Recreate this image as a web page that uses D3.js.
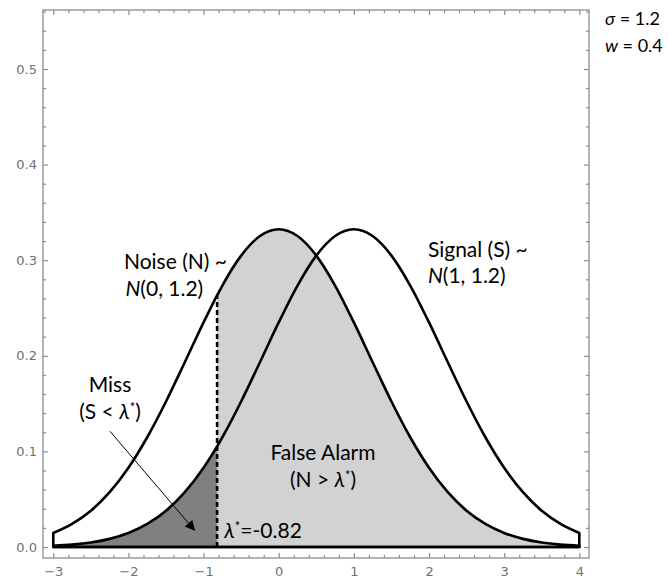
<!DOCTYPE html>
<html>
<head>
<meta charset="utf-8">
<script src="https://cdn.jsdelivr.net/npm/d3@7"></script>
<style>
body { margin: 0; background: #fff; }
</style>
</head>
<body>
<script>
// curve samples
var xs = [-3, -2.75, -2.5, -2.25, -2, -1.75, -1.5, -1.25, -1, -0.82, -0.75, -0.5, -0.25, 0,
          0.25, 0.5, 0.75, 1, 1.25, 1.5, 1.75, 2, 2.25, 2.5, 2.75, 3, 3.25, 3.5, 3.75, 4];
var noise = [0.0146, 0.0241, 0.0379, 0.0573, 0.0829, 0.1148, 0.1522, 0.1933, 0.2349, 0.2632, 0.2735, 0.3048, 0.3253, 0.3324,
             0.3253, 0.3048, 0.2735, 0.2349, 0.1933, 0.1522, 0.1148, 0.0829, 0.0573, 0.0379, 0.0241, 0.0146, 0.0085, 0.0047, 0.0025, 0.0013];
var signal = [0.0013, 0.0025, 0.0047, 0.0085, 0.0146, 0.0241, 0.0379, 0.0573, 0.0829, 0.1053, 0.1148, 0.1522, 0.1933, 0.2349,
              0.2735, 0.3048, 0.3253, 0.3324, 0.3253, 0.3048, 0.2735, 0.2349, 0.1933, 0.1522, 0.1148, 0.0829, 0.0573, 0.0379, 0.0241, 0.0146];
var lambda = -0.82;

var xMajor = [-3, -2, -1, 0, 1, 2, 3, 4];
var xLabels = ["\u22123", "\u22122", "\u22121", "0", "1", "2", "3", "4"];
var yMajor = [0, 0.1, 0.2, 0.3, 0.4, 0.5];
var yLabels = ["0.0", "0.1", "0.2", "0.3", "0.4", "0.5"];

var width = 669, height = 581;
var frame = {left: 43, top: 10, right: 589, bottom: 558};

var xScale = d3.scaleLinear().domain([-3.137, 4.129]).range([frame.left, frame.right]);
var yScale = d3.scaleLinear().domain([-0.0115, 0.5617]).range([frame.bottom, frame.top]);

var svg = d3.select("body").append("svg")
    .attr("width", width)
    .attr("height", height)
    .style("font-family", "Lato, 'Open Sans', sans-serif");

var defs = svg.append("defs");
defs.append("clipPath").attr("id", "leftOfLambda")
    .append("rect")
    .attr("x", 0).attr("y", 0)
    .attr("width", xScale(lambda)).attr("height", height);
defs.append("clipPath").attr("id", "rightOfLambda")
    .append("rect")
    .attr("x", xScale(lambda)).attr("y", 0)
    .attr("width", width - xScale(lambda)).attr("height", height);
defs.append("marker").attr("id", "head")
    .attr("viewBox", "0 0 10 10")
    .attr("refX", 10).attr("refY", 5)
    .attr("markerWidth", 13).attr("markerHeight", 10)
    .attr("markerUnits", "userSpaceOnUse")
    .attr("orient", "auto")
    .append("path").attr("d", "M0,0 L10,5 L0,10 Z").attr("fill", "#000");

var noiseData = xs.map(function(x, i) { return {x: x, y: noise[i]}; });
var signalData = xs.map(function(x, i) { return {x: x, y: signal[i]}; });

var area = d3.area()
    .x(function(d) { return xScale(d.x); })
    .y0(yScale(0))
    .y1(function(d) { return yScale(d.y); })
    .curve(d3.curveMonotoneX);

// false alarm: noise above lambda
svg.append("path")
    .attr("d", area(noiseData))
    .attr("fill", "#d2d2d2")
    .attr("clip-path", "url(#rightOfLambda)");

// miss: signal below lambda
svg.append("path")
    .attr("d", area(signalData))
    .attr("fill", "#808080")
    .attr("clip-path", "url(#leftOfLambda)");

// outlines of both densities
[noiseData, signalData].forEach(function(data) {
    svg.append("path")
        .attr("d", area(data))
        .attr("fill", "none")
        .attr("stroke", "#000")
        .attr("stroke-width", 2.6)
        .attr("stroke-linejoin", "round");
});

// criterion line
var lambdaTop = noise[xs.indexOf(lambda)];
svg.append("line")
    .attr("x1", xScale(lambda)).attr("x2", xScale(lambda))
    .attr("y1", yScale(0)).attr("y2", yScale(lambdaTop))
    .attr("stroke", "#000")
    .attr("stroke-width", 2.6)
    .attr("stroke-dasharray", "5,3");

// frame
svg.append("rect")
    .attr("x", frame.left).attr("y", frame.top)
    .attr("width", frame.right - frame.left)
    .attr("height", frame.bottom - frame.top)
    .attr("fill", "none")
    .attr("stroke", "#8c8c8c")
    .attr("stroke-width", 1.3);

var xMinor = d3.range(-3, 4.001, 0.2).filter(function(v) { return Math.abs(v - Math.round(v)) > 0.01; });
var yMinor = d3.range(0, 0.561, 0.02).filter(function(v) { return Math.abs(v * 10 - Math.round(v * 10)) > 0.01; });

function styleAxis(g) {
    g.select(".domain").remove();
    g.selectAll("line").attr("stroke", "#8c8c8c").attr("stroke-width", 1.2);
    g.selectAll("text").attr("fill", "#707070").style("font-size", "13px")
        .style("font-family", "'DejaVu Sans', sans-serif");
}

// bottom
svg.append("g").attr("transform", "translate(0," + frame.bottom + ")")
    .call(d3.axisBottom(xScale).tickValues(xMajor).tickSize(-5).tickPadding(9)
        .tickFormat(function(d, i) { return xLabels[i]; }))
    .call(styleAxis);
svg.append("g").attr("transform", "translate(0," + frame.bottom + ")")
    .call(d3.axisBottom(xScale).tickValues(xMinor).tickSize(-3).tickFormat(""))
    .call(styleAxis);
// top
svg.append("g").attr("transform", "translate(0," + frame.top + ")")
    .call(d3.axisTop(xScale).tickValues(xMajor).tickSize(-5).tickFormat(""))
    .call(styleAxis);
svg.append("g").attr("transform", "translate(0," + frame.top + ")")
    .call(d3.axisTop(xScale).tickValues(xMinor).tickSize(-3).tickFormat(""))
    .call(styleAxis);
// left
svg.append("g").attr("transform", "translate(" + frame.left + ",0)")
    .call(d3.axisLeft(yScale).tickValues(yMajor).tickSize(-5).tickPadding(6)
        .tickFormat(function(d, i) { return yLabels[i]; }))
    .call(styleAxis);
svg.append("g").attr("transform", "translate(" + frame.left + ",0)")
    .call(d3.axisLeft(yScale).tickValues(yMinor).tickSize(-3).tickFormat(""))
    .call(styleAxis);
// right
svg.append("g").attr("transform", "translate(" + frame.right + ",0)")
    .call(d3.axisRight(yScale).tickValues(yMajor).tickSize(-5).tickFormat(""))
    .call(styleAxis);
svg.append("g").attr("transform", "translate(" + frame.right + ",0)")
    .call(d3.axisRight(yScale).tickValues(yMinor).tickSize(-3).tickFormat(""))
    .call(styleAxis);

// arrow from Miss label to shaded region
svg.append("line")
    .attr("x1", xScale(-2.245)).attr("y1", yScale(0.121))
    .attr("x2", xScale(-1.114)).attr("y2", yScale(0.017))
    .attr("stroke", "#000")
    .attr("stroke-width", 1)
    .attr("marker-end", "url(#head)");

// annotation text
function label(x, y, anchor) {
    return svg.append("text")
        .attr("x", xScale(x)).attr("y", yScale(y))
        .attr("text-anchor", anchor)
        .attr("fill", "#000")
        .style("font-size", "21px");
}
function star(t) {
    t.append("tspan").text("*").style("font-size", "13px").attr("baseline-shift", "55%");
}

label(-2.06, 0.291, "start").text("Noise (N) ~");
var n0 = label(-2.04, 0.2626, "start");
n0.append("tspan").text("N").style("font-style", "italic");
n0.append("tspan").text("(0, 1.2)");

label(1.985, 0.3033, "start").text("Signal (S) ~");
var n1 = label(1.985, 0.276, "start");
n1.append("tspan").text("N").style("font-style", "italic");
n1.append("tspan").text("(1, 1.2)");

label(-2.245, 0.1625, "middle").text("Miss");
var m = label(-2.245, 0.134, "middle");
m.append("tspan").text("(S < ");
m.append("tspan").text("\u03bb").style("font-style", "italic");
star(m);
m.append("tspan").text(")");

label(0.589, 0.091, "middle").text("False Alarm");
var fa = label(0.589, 0.063, "middle");
fa.append("tspan").text("(N > ");
fa.append("tspan").text("\u03bb").style("font-style", "italic");
star(fa);
fa.append("tspan").text(")");

var lt = label(-0.724, 0.0097, "start");
lt.append("tspan").text("\u03bb").style("font-style", "italic");
star(lt);
lt.append("tspan").text("=-0.82");

// parameters outside the frame
var s1 = svg.append("text").attr("x", 605).attr("y", 25).style("font-size", "18px");
s1.append("tspan").text("\u03c3").style("font-style", "italic");
s1.append("tspan").text(" = 1.2");
var s2 = svg.append("text").attr("x", 605).attr("y", 52).style("font-size", "18px");
s2.append("tspan").text("w").style("font-style", "italic");
s2.append("tspan").text(" = 0.4");
</script>
</body>
</html>
